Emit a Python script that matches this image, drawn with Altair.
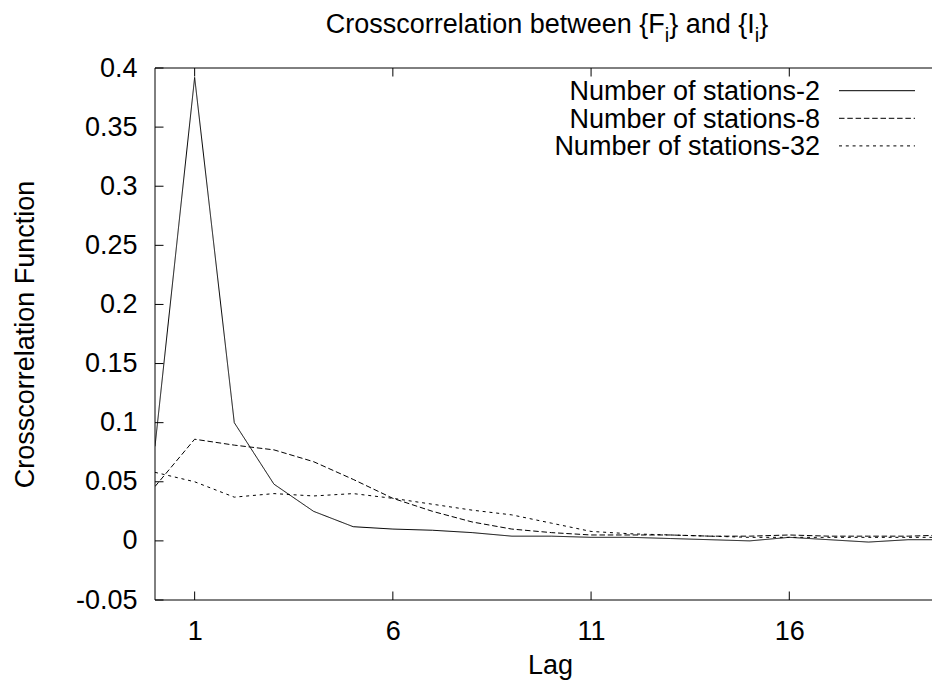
import altair as alt
import pandas as pd

# ---- data ----
lags = list(range(21))
n2 = [0.080, 0.392, 0.100, 0.048, 0.025, 0.012, 0.010, 0.009, 0.007, 0.004, 0.004,
      0.003, 0.003, 0.002, 0.001, 0.000, 0.003, 0.001, -0.001, 0.001, 0.001]
n8 = [0.046, 0.086, 0.081, 0.077, 0.067, 0.052, 0.036, 0.025, 0.016, 0.010, 0.007,
      0.005, 0.005, 0.005, 0.004, 0.004, 0.005, 0.004, 0.004, 0.004, 0.005]
n32 = [0.058, 0.050, 0.037, 0.040, 0.038, 0.040, 0.036, 0.031, 0.026, 0.022, 0.015,
       0.008, 0.006, 0.005, 0.004, 0.003, 0.003, 0.003, 0.003, 0.003, 0.003]
series_names = ["Number of stations-2", "Number of stations-8", "Number of stations-32"]
x_ticks = [1, 6, 11, 16]
y_ticks = [-0.05, 0, 0.05, 0.1, 0.15, 0.2, 0.25, 0.3, 0.35, 0.4]
x_domain = [0, 19.6]
y_domain = [-0.05, 0.4]
title_parts = [("Crosscorrelation between {F", False), ("i", True),
               ("} and {I", False), ("i", True), ("}", False)]

# ---- layout / style ----
W, H = 777, 532
FONT = "Liberation Sans"
FS = 27
SUB_FS = 20
TICK = 8.5
dashes = [[1, 0], [5.5, 2.8], [3, 3.8]]

# Arial / Liberation Sans advance widths (per 1000 em) for title layout
AW = {'C': 722, 'r': 333, 'o': 556, 's': 500, 'c': 500, 'e': 556, 'l': 222, 'a': 556,
      't': 278, 'i': 222, 'n': 556, ' ': 278, 'b': 556, 'w': 722, '{': 334, '}': 334,
      'F': 611, 'd': 556, 'I': 278}

def text_width(s, size):
    return sum(AW.get(ch, 556) for ch in s) / 1000.0 * size

df = pd.DataFrame({
    "lag": lags * 3,
    "value": n2 + n8 + n32,
    "series": [s for s in series_names for _ in lags],
})

xscale = alt.Scale(domain=x_domain, nice=False, zero=False)
yscale = alt.Scale(domain=y_domain, nice=False, zero=False)
x_axis = alt.Axis(values=x_ticks, title="Lag", labelPadding=18,
                  titleX=395, titleY=73, titleAlign="center",
                  titleBaseline="alphabetic")
y_axis = alt.Axis(values=y_ticks, labelExpr="datum.value + ''",
                  title="Crosscorrelation Function", labelPadding=18,
                  titleX=-122, titleY=H / 2, titleAngle=270,
                  titleAlign="center", titleBaseline="alphabetic")

lines = alt.Chart(df).mark_line(color="black", strokeWidth=1, clip=True).encode(
    x=alt.X("lag:Q", scale=xscale, axis=x_axis),
    y=alt.Y("value:Q", scale=yscale, axis=y_axis),
    strokeDash=alt.StrokeDash("series:N",
                              scale=alt.Scale(domain=series_names, range=dashes),
                              legend=None),
    detail="series:N",
)

xt = pd.DataFrame({"t": x_ticks})
yt = pd.DataFrame({"t": y_ticks})
tick_style = dict(color="black", strokeWidth=1)

xt_bottom = alt.Chart(xt).mark_rule(**tick_style).encode(
    x=alt.X("t:Q", scale=xscale, axis=x_axis), y=alt.value(H), y2=alt.value(H - TICK))
xt_top = alt.Chart(xt).mark_rule(**tick_style).encode(
    x=alt.X("t:Q", scale=xscale, axis=x_axis), y=alt.value(0), y2=alt.value(TICK))
yt_left = alt.Chart(yt).mark_rule(**tick_style).encode(
    y=alt.Y("t:Q", scale=yscale, axis=y_axis), x=alt.value(0), x2=alt.value(TICK))

# frame: left, top and bottom (the right edge lies beyond the reference's crop)
frame_df = pd.DataFrame({"k": [0]})
frame_left = alt.Chart(frame_df).mark_rule(**tick_style).encode(
    x=alt.value(0), y=alt.value(0), y2=alt.value(H))
frame_top = alt.Chart(frame_df).mark_rule(**tick_style).encode(
    x=alt.value(0), x2=alt.value(W), y=alt.value(0))
frame_bottom = alt.Chart(frame_df).mark_rule(**tick_style).encode(
    x=alt.value(0), x2=alt.value(W), y=alt.value(H))

layers = [lines, xt_bottom, xt_top, yt_left, frame_left, frame_top, frame_bottom]

# ---- key (labels to the left of the line samples, as in the reference) ----
KEY_TEXT_X = 665
KEY_LINE_X1, KEY_LINE_X2 = 684, 760
KEY_Y0, KEY_DY = 22.7, 27.6
for i, name in enumerate(series_names):
    yc = KEY_Y0 + i * KEY_DY
    kd = pd.DataFrame({"series": [name]})
    layers.append(
        alt.Chart(kd).mark_text(align="right", baseline="alphabetic", font=FONT,
                                fontSize=FS, color="black").encode(
            text="series:N", x=alt.value(KEY_TEXT_X), y=alt.value(yc + 9.5)))
    layers.append(
        alt.Chart(kd).mark_rule(color="black", strokeWidth=1,
                                strokeDash=dashes[i]).encode(
            x=alt.value(KEY_LINE_X1), x2=alt.value(KEY_LINE_X2), y=alt.value(yc)))

# ---- title with subscripts ----
total_w = sum(text_width(t, SUB_FS if sub else FS) for t, sub in title_parts)
cx = 392
xpos = cx - total_w / 2
TITLE_BASE = -35
for t, sub in title_parts:
    size = SUB_FS if sub else FS
    td = pd.DataFrame({"txt": [t]})
    layers.append(
        alt.Chart(td).mark_text(align="left", baseline="alphabetic", font=FONT,
                                fontSize=size, color="black").encode(
            text="txt:N", x=alt.value(xpos),
            y=alt.value(TITLE_BASE + (9 if sub else 0))))
    xpos += text_width(t, size)

chart = alt.layer(*layers).properties(
    width=W, height=H,
    autosize=alt.AutoSizeParams(type="none"),
    padding={"left": 147, "top": 60, "right": 0, "bottom": 80},
    background="white",
).configure_view(
    strokeWidth=0
).configure_axis(
    grid=False, domain=False, ticks=False, tickSize=0,
    labelFont=FONT, titleFont=FONT, labelFontSize=FS, titleFontSize=FS,
    labelColor="black", titleColor="black", titleFontWeight="normal",
)

chart.save("out.html", embed_options={"renderer": "svg", "actions": False})
